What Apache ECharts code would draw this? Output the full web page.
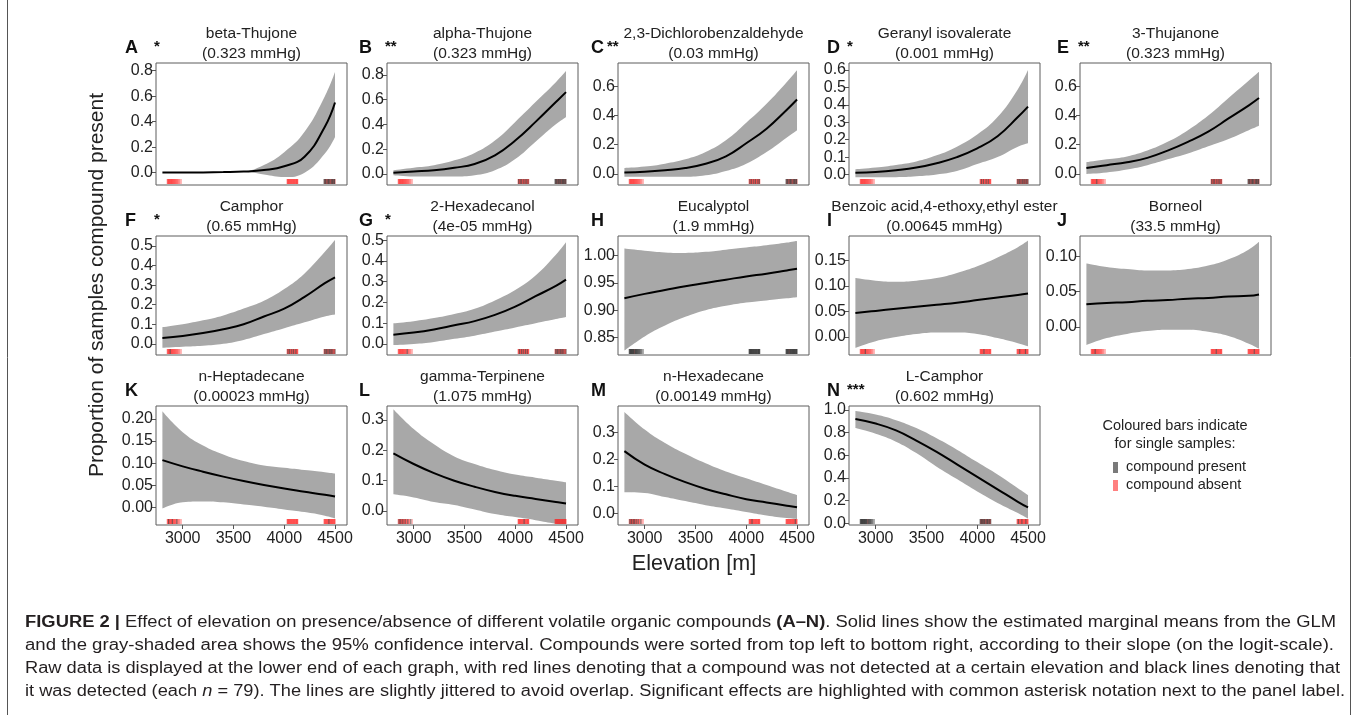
<!DOCTYPE html>
<html><head><meta charset="utf-8">
<script src="https://cdn.jsdelivr.net/npm/echarts@6/dist/echarts.min.js"></script>
<style>html,body{margin:0;padding:0;background:#fff}#c{width:1358px;height:715px}</style>
</head><body><div id="c"></div>
<script>
// ---------------- DATA ----------------
const elevation = [2800, 3000, 3200, 3400, 3600, 3800, 4000, 4200, 4400, 4500];
const compoundNames = ['beta-Thujone','alpha-Thujone','2,3-Dichlorobenzaldehyde','Geranyl isovalerate','3-Thujanone',
  'Camphor','2-Hexadecanol','Eucalyptol','Benzoic acid,4-ethoxy,ethyl ester','Borneol',
  'n-Heptadecane','gamma-Terpinene','n-Hexadecane','L-Camphor'];
const vaporPressures = ['(0.323 mmHg)','(0.323 mmHg)','(0.03 mmHg)','(0.001 mmHg)','(0.323 mmHg)',
  '(0.65 mmHg)','(4e-05 mmHg)','(1.9 mmHg)','(0.00645 mmHg)','(33.5 mmHg)',
  '(0.00023 mmHg)','(1.075 mmHg)','(0.00149 mmHg)','(0.602 mmHg)'];
const panelLetters = ['A','B','C','D','E','F','G','H','I','J','K','L','M','N'];
const significance = ['*','**','**','*','**','*','*','','','','','','','***'];

// estimated marginal means (fit), lower and upper 95% CI
const fitA = [0.001, 0.001, 0.002, 0.004, 0.008, 0.02, 0.05, 0.125, 0.36, 0.55];
const loA  = [0.001, 0.001, 0.002, 0.004, 0.006, -0.015, -0.035, 0.0, 0.15, 0.28];
const hiA  = [0.001, 0.001, 0.002, 0.004, 0.01, 0.06, 0.16, 0.32, 0.6, 0.79];
const fitB = [0.01, 0.02, 0.03, 0.05, 0.08, 0.15, 0.27, 0.42, 0.58, 0.66];
const loB  = [-0.01, -0.02, -0.02, -0.02, -0.01, 0.03, 0.12, 0.26, 0.40, 0.46];
const hiB  = [0.03, 0.05, 0.07, 0.11, 0.17, 0.27, 0.42, 0.58, 0.74, 0.83];
const fitC = [0.01, 0.015, 0.025, 0.04, 0.07, 0.12, 0.21, 0.31, 0.44, 0.51];
const loC  = [-0.02, -0.02, -0.02, -0.02, -0.01, 0.02, 0.07, 0.15, 0.25, 0.30];
const hiC  = [0.04, 0.05, 0.07, 0.1, 0.15, 0.23, 0.35, 0.48, 0.63, 0.71];
const fitD = [0.01, 0.015, 0.025, 0.04, 0.065, 0.1, 0.15, 0.22, 0.33, 0.39];
const loD  = [-0.015, -0.015, -0.015, -0.01, 0.0, 0.02, 0.06, 0.1, 0.16, 0.18];
const hiD  = [0.03, 0.04, 0.055, 0.075, 0.11, 0.16, 0.23, 0.33, 0.49, 0.6];
const fitE = [0.04, 0.06, 0.08, 0.11, 0.16, 0.22, 0.29, 0.38, 0.47, 0.52];
const loE  = [0.0, 0.01, 0.03, 0.06, 0.1, 0.14, 0.19, 0.24, 0.3, 0.33];
const hiE  = [0.08, 0.1, 0.12, 0.16, 0.22, 0.3, 0.4, 0.52, 0.64, 0.70];
const fitF = [0.03, 0.04, 0.055, 0.075, 0.1, 0.14, 0.18, 0.24, 0.31, 0.34];
const loF  = [-0.02, -0.015, -0.01, 0.0, 0.02, 0.05, 0.08, 0.11, 0.14, 0.15];
const hiF  = [0.085, 0.1, 0.12, 0.145, 0.18, 0.22, 0.28, 0.36, 0.47, 0.53];
const fitG = [0.045, 0.055, 0.07, 0.09, 0.11, 0.14, 0.18, 0.23, 0.28, 0.31];
const loG  = [-0.005, 0.0, 0.01, 0.025, 0.04, 0.06, 0.08, 0.1, 0.12, 0.13];
const hiG  = [0.1, 0.11, 0.125, 0.145, 0.17, 0.21, 0.26, 0.33, 0.43, 0.49];
const fitH = [0.922, 0.93, 0.937, 0.944, 0.95, 0.956, 0.962, 0.967, 0.973, 0.976];
const loH  = [0.826, 0.852, 0.872, 0.888, 0.9, 0.908, 0.914, 0.918, 0.922, 0.924];
const hiH  = [1.013, 1.009, 1.006, 1.005, 1.007, 1.011, 1.015, 1.019, 1.024, 1.027];
const fitI = [0.047, 0.051, 0.055, 0.059, 0.063, 0.067, 0.072, 0.077, 0.082, 0.085];
const loI  = [-0.021, -0.008, 0.0, 0.006, 0.009, 0.009, 0.006, -0.002, -0.012, -0.018];
const hiI  = [0.115, 0.11, 0.108, 0.11, 0.115, 0.125, 0.138, 0.155, 0.175, 0.188];
const fitJ = [0.032, 0.034, 0.035, 0.037, 0.038, 0.040, 0.041, 0.043, 0.044, 0.046];
const loJ  = [-0.026, -0.016, -0.01, -0.006, -0.004, -0.004, -0.007, -0.013, -0.024, -0.031];
const hiJ  = [0.090, 0.085, 0.082, 0.080, 0.080, 0.082, 0.087, 0.096, 0.11, 0.121];
const fitK = [0.107, 0.093, 0.081, 0.07, 0.06, 0.051, 0.043, 0.036, 0.029, 0.025];
const loK  = [-0.002, 0.012, 0.014, 0.012, 0.007, 0.002, -0.004, -0.01, -0.018, -0.024];
const hiK  = [0.217, 0.17, 0.14, 0.12, 0.105, 0.095, 0.09, 0.085, 0.08, 0.077];
const fitL = [0.19, 0.155, 0.125, 0.1, 0.08, 0.063, 0.05, 0.04, 0.03, 0.025];
const loL  = [0.055, 0.045, 0.03, 0.02, 0.005, -0.01, -0.02, -0.03, -0.042, -0.048];
const hiL  = [0.335, 0.27, 0.22, 0.18, 0.155, 0.135, 0.12, 0.11, 0.1, 0.095];
const fitM = [0.23, 0.18, 0.145, 0.115, 0.09, 0.07, 0.052, 0.04, 0.028, 0.022];
const loM  = [0.078, 0.075, 0.06, 0.045, 0.03, 0.018, 0.005, -0.008, -0.018, -0.022];
const hiM  = [0.375, 0.31, 0.26, 0.22, 0.185, 0.155, 0.13, 0.105, 0.08, 0.068];
const fitN = [0.92, 0.88, 0.82, 0.73, 0.63, 0.52, 0.41, 0.3, 0.19, 0.14];
const loN  = [0.84, 0.79, 0.72, 0.62, 0.5, 0.39, 0.28, 0.18, 0.09, 0.04];
const hiN  = [0.99, 0.96, 0.91, 0.84, 0.75, 0.65, 0.54, 0.43, 0.31, 0.25];

// y axis ranges and tick labels per panel
const yMin = [-0.097, -0.089, -0.076, -0.06, -0.076, -0.057, -0.053, 0.818, -0.035, -0.04, -0.039, -0.046, -0.0435, -0.015];
const yMax = [0.86, 0.895, 0.76, 0.64, 0.76, 0.551, 0.52, 1.036, 0.197, 0.129, 0.229, 0.346, 0.397, 1.035];
const yTickLabels = [
  ['0.0','0.2','0.4','0.6','0.8'], ['0.0','0.2','0.4','0.6','0.8'], ['0.0','0.2','0.4','0.6'],
  ['0.0','0.1','0.2','0.3','0.4','0.5','0.6'], ['0.0','0.2','0.4','0.6'],
  ['0.0','0.1','0.2','0.3','0.4','0.5'], ['0.0','0.1','0.2','0.3','0.4','0.5'],
  ['0.85','0.90','0.95','1.00'], ['0.00','0.05','0.10','0.15'], ['0.00','0.05','0.10'],
  ['0.00','0.05','0.10','0.15','0.20'], ['0.0','0.1','0.2','0.3'], ['0.0','0.1','0.2','0.3'],
  ['0.0','0.2','0.4','0.6','0.8','1.0']];
const xTickValues = [3000, 3500, 4000, 4500];

// sample elevations (jittered) for the three sampling sites, n = 79
const siteLow  = [2848, 2853, 2856, 2861, 2864, 2869, 2873, 2877, 2880, 2886, 2890, 2893, 2898, 2902, 2907, 2911, 2916, 2921, 2925, 2931, 2936, 2942, 2948, 2955, 2962, 2971, 2984];
const siteMid  = [4028, 4033, 4036, 4041, 4044, 4049, 4053, 4057, 4061, 4066, 4070, 4074, 4079, 4083, 4087, 4092, 4096, 4100, 4105, 4109, 4114, 4118, 4122, 4126, 4129, 4133];
const siteHigh = [4392, 4397, 4401, 4405, 4410, 4414, 4418, 4423, 4427, 4431, 4436, 4440, 4444, 4449, 4453, 4457, 4462, 4466, 4470, 4475, 4479, 4483, 4488, 4492, 4496, 4500];
// presence (1) / absence (0) per sample, site order low|mid|high
const presence = [
  '000000000000000000000000000|00000000000000000000000000|10110100101101001011010110',
  '000000000000000000000000000|01000100100010001001000100|11011010110110101101101101',
  '000000000000000000000000000|00100010000100010000100010|10110100101101001011010110',
  '000000000000000000000000000|00010000100000100001000000|01001010010010100100101001',
  '000000000000010000000000000|01000100100010001001000100|10110100101101001011010110',
  '000000010000000000000000000|00100010000100010000100000|01001010010010100100100001',
  '000000000000000000001000000|00010000100010000100010000|01001010010010100100100001',
  '111111111111011111111111111|11111111111111111111111111|11111110111111111111111111',
  '000000000000100000000000000|00000000010000000000000000|00000010000000000001000000',
  '000000000100000000000000000|00000000000010000000000000|00000000000000100000000000',
  '000100000000100000000100000|00000000000000000000000000|00000000000100000000000000',
  '001000100001000010000100010|00000000000000100000000000|00000000000000000000000000',
  '010001000100100010001000100|00000001000000000000000000|00000000000000000000010000',
  '111111111111111110111111111|10101101011010010110101001|00010000000100000000100000'];

// ---------------- CHART ----------------
const fits = [fitA,fitB,fitC,fitD,fitE,fitF,fitG,fitH,fitI,fitJ,fitK,fitL,fitM,fitN];
const lows = [loA,loB,loC,loD,loE,loF,loG,loH,loI,loJ,loK,loL,loM,loN];
const highs = [hiA,hiB,hiC,hiD,hiE,hiF,hiG,hiH,hiI,hiJ,hiK,hiL,hiM,hiN];
const rugElev = siteLow.concat(siteMid, siteHigh);

const FONT = '"Liberation Sans", Arial, Helvetica, sans-serif';
const colLeft = [156, 387, 618, 849, 1080];
const rowTop = [63, 236, 406];
const rowH = [122, 119, 119];
const W = 191;
const X_MIN = 2737, X_MAX = 4618;
const letterX = [125, 359, 591, 827, 1057];
const starDX = [29, 26, 16, 20, 21];
const SMOOTH = 0.45;

const grids = [], xAxes = [], yAxes = [], series = [], graphics = [];

for (let i = 0; i < 14; i++) {
  const row = Math.floor(i / 5), col = i % 5;
  const left = colLeft[col], width = W;
  const top = rowTop[row], h = rowH[row];
  grids.push({left: left, top: top, width: width, height: h, show: true,
    borderColor: '#5c5c5c', borderWidth: 1, backgroundColor: 'transparent'});
  const bottomRow = row === 2;
  xAxes.push({type: 'value', gridIndex: i, min: X_MIN, max: X_MAX, position: 'bottom',
    axisLine: {show: false, onZero: false}, splitLine: {show: false},
    axisTick: {show: bottomRow, customValues: xTickValues, length: 4, lineStyle: {color: '#555'}},
    axisLabel: {show: bottomRow, customValues: xTickValues, fontSize: 16, color: '#222',
      margin: 6, fontFamily: FONT, formatter: v => String(Math.round(v))}});
  const tickVals = yTickLabels[i].map(parseFloat);
  const labels = yTickLabels[i];
  yAxes.push({type: 'value', gridIndex: i, min: yMin[i], max: yMax[i], position: 'left',
    axisLine: {show: false, onZero: false}, splitLine: {show: false},
    axisTick: {show: true, customValues: tickVals, length: 4, lineStyle: {color: '#555'}},
    axisLabel: {customValues: tickVals, fontSize: 16, color: '#222', margin: 3, fontFamily: FONT,
      formatter: v => { for (let k = 0; k < tickVals.length; k++) if (Math.abs(tickVals[k] - v) < 1e-9) return labels[k]; return ''; }}});

  const lo = lows[i], hi = highs[i], fit = fits[i];
  // column 0 = probability (stacked), column 1 = elevation
  series.push({type: 'line', xAxisIndex: i, yAxisIndex: i, stack: 'band' + i, stackStrategy: 'all',
    data: elevation.map((x, k) => [lo[k], x]), encode: {x: 1, y: 0},
    smooth: SMOOTH, symbol: 'none', silent: true, lineStyle: {opacity: 0}, z: 1});
  series.push({type: 'line', xAxisIndex: i, yAxisIndex: i, stack: 'band' + i, stackStrategy: 'all',
    data: elevation.map((x, k) => [hi[k] - lo[k], x]), encode: {x: 1, y: 0},
    smooth: SMOOTH, symbol: 'none', silent: true,
    lineStyle: {opacity: 0}, areaStyle: {color: '#a8a8a8', opacity: 1}, z: 1});
  series.push({type: 'line', xAxisIndex: i, yAxisIndex: i,
    data: elevation.map((x, k) => [x, fit[k]]), smooth: SMOOTH, symbol: 'none', silent: true,
    lineStyle: {color: '#000', width: 2}, z: 3});

  const pres = presence[i].replace(/\|/g, '');
  const absentE = rugElev.filter((e, k) => pres[k] === '0');
  const presentE = rugElev.filter((e, k) => pres[k] === '1');
  const yb = yMin[i];
  const rug = (data, color) => ({type: 'custom', xAxisIndex: i, yAxisIndex: i, silent: true, z: 5,
    data: data.map(e => [e, yb]),
    renderItem: (params, api) => {
      const p = api.coord([api.value(0), yb]);
      return {type: 'rect', shape: {x: p[0] - 0.6, y: p[1] - 6, width: 1.2, height: 5},
        style: {fill: color}};
    }});
  series.push(rug(absentE, 'rgba(255,30,30,0.45)'));
  series.push(rug(presentE, 'rgba(40,40,40,0.55)'));

  // titles
  const cx = left + width / 2;
  graphics.push({type: 'text', x: cx, y: top - 29, silent: true,
    style: {text: compoundNames[i], fontSize: 15.5, fontFamily: FONT, fill: '#222', align: 'center', verticalAlign: 'middle'}});
  graphics.push({type: 'text', x: cx, y: top - 9, silent: true,
    style: {text: vaporPressures[i], fontSize: 15.5, fontFamily: FONT, fill: '#222', align: 'center', verticalAlign: 'middle'}});
  graphics.push({type: 'text', x: letterX[col], y: top - 15, silent: true,
    style: {text: panelLetters[i], fontSize: 18, fontWeight: 'bold', fontFamily: FONT, fill: '#111', align: 'left', verticalAlign: 'middle'}});
  if (significance[i]) {
    graphics.push({type: 'text', x: letterX[col] + starDX[col], y: top - 16, silent: true,
      style: {text: significance[i], fontSize: 15, fontWeight: 'bold', fontFamily: FONT, fill: '#111', align: 'left', verticalAlign: 'middle'}});
  }
}

// axis titles
graphics.push({type: 'text', x: 97, y: 285, rotation: Math.PI / 2, silent: true,
  style: {text: 'Proportion of samples compound present', fontSize: 21, fontFamily: FONT, fill: '#222', align: 'center', verticalAlign: 'middle'}});
graphics.push({type: 'text', x: 694, y: 564, silent: true,
  style: {text: 'Elevation [m]', fontSize: 21.5, fontFamily: FONT, fill: '#222', align: 'center', verticalAlign: 'middle'}});

// legend
graphics.push({type: 'text', x: 1175, y: 426, silent: true,
  style: {text: 'Coloured bars indicate', fontSize: 14.5, fontFamily: FONT, fill: '#222', align: 'center', verticalAlign: 'middle'}});
graphics.push({type: 'text', x: 1175, y: 444, silent: true,
  style: {text: 'for single samples:', fontSize: 14.5, fontFamily: FONT, fill: '#222', align: 'center', verticalAlign: 'middle'}});
graphics.push({type: 'rect', silent: true, shape: {x: 1113, y: 462, width: 5, height: 11}, style: {fill: '#7a7a7a'}});
graphics.push({type: 'rect', silent: true, shape: {x: 1113, y: 480, width: 5, height: 11}, style: {fill: '#ff8080'}});
graphics.push({type: 'text', x: 1126, y: 467, silent: true,
  style: {text: 'compound present', fontSize: 14.5, fontFamily: FONT, fill: '#222', align: 'left', verticalAlign: 'middle'}});
graphics.push({type: 'text', x: 1126, y: 485, silent: true,
  style: {text: 'compound absent', fontSize: 14.5, fontFamily: FONT, fill: '#222', align: 'left', verticalAlign: 'middle'}});

// frame
graphics.push({type: 'line', silent: true, shape: {x1: 7.5, y1: 0, x2: 7.5, y2: 715}, style: {stroke: '#555', lineWidth: 1}});
graphics.push({type: 'line', silent: true, shape: {x1: 1350.5, y1: 0, x2: 1350.5, y2: 715}, style: {stroke: '#555', lineWidth: 1}});

// caption
const CAP_FONT = '"Liberation Sans", Arial, sans-serif';
const capLines = [
  [['b','FIGURE 2 |'], ['n',' Effect of elevation on presence/absence of different volatile organic compounds '], ['b','(A–N)'], ['n','. Solid lines show the estimated marginal means from the GLM']],
  [['n','and the gray-shaded area shows the 95% confidence interval. Compounds were sorted from top left to bottom right, according to their slope (on the logit-scale).']],
  [['n','Raw data is displayed at the lower end of each graph, with red lines denoting that a compound was not detected at a certain elevation and black lines denoting that']],
  [['n','it was detected (each '], ['i','n'], ['n',' = 79). The lines are slightly jittered to avoid overlap. Significant effects are highlighted with common asterisk notation next to the panel label.']]];
const capY = [623, 646, 669, 692];
const capRight = [1336, 1334, 1340, 1345];
const cv = document.createElement('canvas').getContext('2d');
capLines.forEach((segs, li) => {
  let total = 0, txt = '';
  segs.forEach(([t, s]) => {
    cv.font = (t === 'b' ? 'bold ' : t === 'i' ? 'italic ' : '') + '16px ' + CAP_FONT;
    total += cv.measureText(s).width;
    txt += t === 'n' ? s : '{' + t + '|' + s + '}';
  });
  const sx = (capRight[li] - 25) / total;
  graphics.push({type: 'text', x: 25, y: capY[li], scaleX: sx, silent: true,
    style: {text: txt, fontSize: 16, fontFamily: CAP_FONT, fill: '#231f20', align: 'left', verticalAlign: 'middle',
      rich: {b: {fontWeight: 'bold', fontSize: 16, fontFamily: CAP_FONT, fill: '#231f20'},
             i: {fontStyle: 'italic', fontSize: 16, fontFamily: CAP_FONT, fill: '#231f20'}}}});
});

const chart = echarts.init(document.getElementById('c'), null, {renderer: 'canvas'});
chart.setOption({animation: false, backgroundColor: '#fff', grid: grids, xAxis: xAxes, yAxis: yAxes,
  series: series, graphic: graphics});
</script></body></html>
